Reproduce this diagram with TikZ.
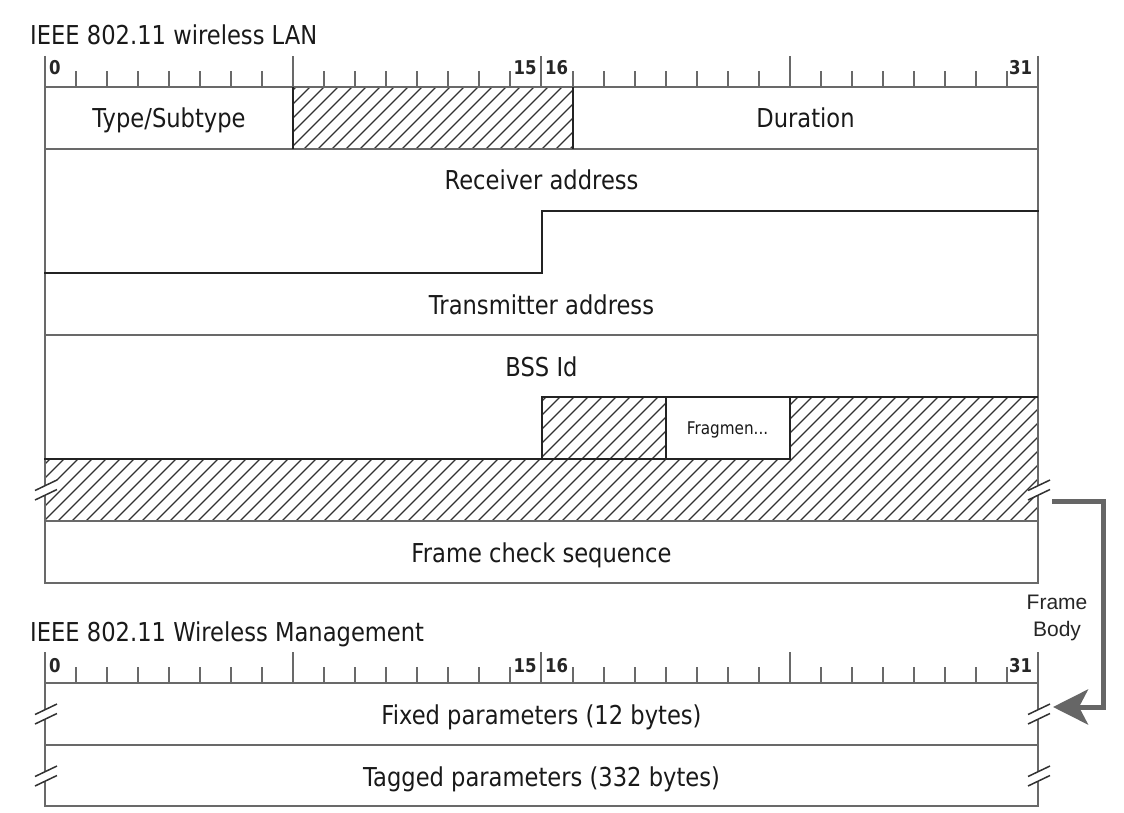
\documentclass[tikz,border=0pt]{standalone}
\usepackage{fontspec}
\setmainfont{DejaVu Sans}[FakeStretch=0.87]
\newfontfamily\arialf{Liberation Sans}
\usetikzlibrary{arrows.meta}
\definecolor{gridgray}{RGB}{105,105,105}
\definecolor{fielddark}{RGB}{35,35,35}
\definecolor{hatchcol}{RGB}{50,50,50}
\definecolor{arrowgray}{RGB}{102,102,102}
\begin{document}
\begin{tikzpicture}[x=1pt,y=-1pt,
  gridline/.style={draw=gridgray,line width=2pt},
  fieldline/.style={draw=fielddark,line width=2pt},
  hatchline/.style={draw=hatchcol,line width=1.2pt},
  brkline/.style={draw=hatchcol,line width=1.5pt},
  titletext/.style={font=\fontsize{26}{30}\selectfont,text=black!90,inner sep=0pt,anchor=base west},
  lbl/.style={font=\fontsize{26}{30}\selectfont,text=black!90,inner sep=0pt,anchor=base},
  smalllbl/.style={font=\fontsize{17.5}{20}\selectfont,text=black!90,inner sep=0pt,anchor=base},
  bitlbl/.style={font=\bfseries\fontsize{19}{21}\selectfont,text=black!85,inner sep=0pt,anchor=base west},
  fbtext/.style={font=\arialf\fontsize{21}{27}\selectfont,text=black!85,inner sep=0pt,align=center},
  fbarrow/.style={draw=arrowgray,line width=5pt,-{Stealth[length=35pt,width=35pt,inset=9pt]}},
  brk/.pic={
    \fill[white] (-11,0.5) -- (11,-10) -- (11,-0.5) -- (-11,10) -- cycle;
    \draw[brkline] (-11,0.5) -- (11,-10) (-11,10) -- (11,-0.5);
  }]
\fill[white] (0,0) rectangle (1124,813);
\useasboundingbox (0,0) rectangle (1124,813);

% ---------- top diagram: hatching ----------
\begin{scope}
  \clip (293.2,87) rectangle (572.5,149);
  \foreach \c in {200,214,...,600} \draw[hatchline] (\c,155) -- ++(80,-80);
\end{scope}
\begin{scope}
  \clip (541.5,397) rectangle (665.6,459) (789.7,397) rectangle (1038,459) (45,459) rectangle (1038,521);
  \foreach \c in {-100,-86,...,1060} \draw[hatchline] (\c,525) -- ++(140,-140);
\end{scope}

% ---------- top diagram: grid ----------
\draw[gridline] (45,87) -- (1038,87);
\draw[gridline] (45,149) -- (1038,149);
\draw[gridline] (45,335) -- (1038,335);
\draw[gridline] (45,521) -- (1038,521);
\draw[gridline] (45,583) -- (1038,583);
\draw[gridline] (45,56) -- (45,584);
\draw[gridline] (1038,56) -- (1038,584);
\foreach \i in {1,...,31} \draw[gridline] ({45+31.03*\i},87) -- ++(0,-16);
\foreach \i in {8,16,24} \draw[gridline] ({45+31.03*\i},87) -- ++(0,-31);

% ---------- top diagram: field borders ----------
\draw[fieldline] (293.2,87) -- (293.2,149);
\draw[fieldline] (572.5,87) -- (572.5,149);
\draw[fieldline] (44,273) -- (541.5,273) -- (541.5,211) -- (1039,211);
\draw[fieldline] (541.5,459) -- (541.5,397) -- (1038,397);
\draw[fieldline] (44,459) -- (789.7,459) -- (789.7,397);
\draw[fieldline] (665.6,397) -- (665.6,459);

\pic at (46,490) {brk};
\pic at (1039,490) {brk};

% ---------- top diagram: texts ----------
\node[titletext] (title1) at (30,45) {IEEE 802.11 wireless LAN};
\node[bitlbl] (t0) at (49,75) {0};
\node[bitlbl] (t15) at (513.5,75) {15};
\node[bitlbl] (t16) at (545,75) {16};
\node[bitlbl] (t31) at (1009,75) {31};
\node[lbl] (typesub) at (169,128) {Type/Subtype};
\node[lbl] (duration) at (805.5,128) {Duration};
\node[lbl] (recv) at (541.5,190) {Receiver address};
\node[lbl] (trans) at (541.5,314) {Transmitter address};
\node[lbl] (bss) at (541.5,376) {BSS Id};
\node[smalllbl] (frag) at (727.6,434) {Fragmen...};
\node[lbl] (fcs) at (541.5,562) {Frame check sequence};

% ---------- bottom diagram ----------
\draw[gridline] (45,683) -- (1038,683);
\draw[gridline] (45,745) -- (1038,745);
\draw[gridline] (45,806) -- (1038,806);
\draw[gridline] (45,652) -- (45,807);
\draw[gridline] (1038,652) -- (1038,807);
\foreach \i in {1,...,31} \draw[gridline] ({45+31.03*\i},683) -- ++(0,-16);
\foreach \i in {8,16,24} \draw[gridline] ({45+31.03*\i},683) -- ++(0,-31);

\pic at (46,714) {brk};
\pic at (1039,714) {brk};
\pic at (46,776) {brk};
\pic at (1039,776) {brk};

\node[titletext] (title2) at (30,641) {IEEE 802.11 Wireless Management};
\node[bitlbl] (m0) at (49,672) {0};
\node[bitlbl] (m15) at (513.5,672) {15};
\node[bitlbl] (m16) at (545,672) {16};
\node[bitlbl] (m31) at (1009,672) {31};
\node[lbl] (fixed) at (541.5,724) {Fixed parameters (12 bytes)};
\node[lbl] (tagged) at (541.5,786) {Tagged parameters (332 bytes)};

% ---------- frame body arrow ----------
\coordinate (fbS) at (1052,501);
\coordinate (fbE) at (1053,707);
\draw[fbarrow] (fbS) -- ++(51,0) |- (fbE);
\node[fbtext] (fbody) at (1057,618) {Frame\\Body};
\end{tikzpicture}
\end{document}
